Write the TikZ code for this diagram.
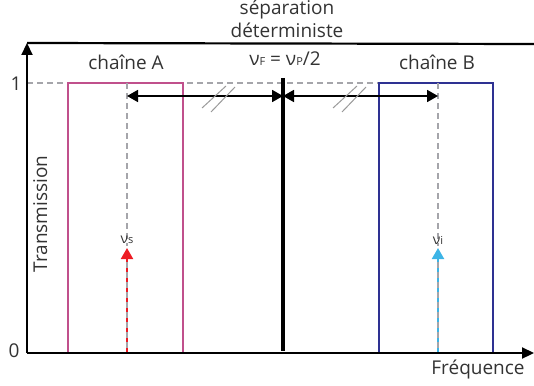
\documentclass[tikz,border=0pt]{standalone}
\usepackage{fontspec}
\setmainfont{Open Sans}
\newfontfamily\grk{Open Sans}
\usetikzlibrary{positioning, arrows.meta}
\definecolor{pinkA}{RGB}{192,80,140}
\definecolor{blueB}{RGB}{46,49,146}
\definecolor{signalred}{RGB}{237,28,36}
\definecolor{idlercyan}{RGB}{60,180,230}
\definecolor{guidegray}{RGB}{165,165,170}
\newcommand{\nusub}[1]{{\grk ν}{\fontsize{11}{11}\selectfont #1}}

\begin{document}
\begin{tikzpicture}[x=1pt, y=-1pt,
  axis/.style={line width=2.2pt, -{Triangle[length=12pt, width=11pt]}},
  guide/.style={draw=guidegray, line width=1.5pt, dash pattern=on 6pt off 4pt},
  chainbox/.style={line width=2pt},
  gap/.style={line width=1.8pt, {Triangle[length=11pt, width=12pt]}-{Triangle[length=11pt, width=12pt]}},
  hatch/.style={draw=gray!80, line width=1pt},
  wave/.style={line width=2pt, -{Triangle[length=11pt, width=12pt]}},
  lbl/.style={font=\fontsize{19}{22}\selectfont, text=black!80, inner sep=0pt, anchor=base},
  small/.style={font=\fontsize{14}{16}\selectfont, text=black!80, inner sep=0pt}
]
\useasboundingbox (0,0) rectangle (534,385);

\coordinate (origin) at (27,353);
\coordinate (ytop) at (27,43);
\coordinate (xend) at (534,353);
\coordinate (frameend) at (534,44);
\coordinate (oneA) at (27,83);
\coordinate (oneB) at (493,83);
\coordinate (sigtop) at (127,83);
\coordinate (sigfoot) at (127,353);
\coordinate (sighead) at (127,248);
\coordinate (idltop) at (438,83);
\coordinate (idlfoot) at (438,353);
\coordinate (idlhead) at (438,248);
\coordinate (septop) at (283,78);
\coordinate (sepfoot) at (283,351);
\coordinate (sigmark) at (127,96);
\coordinate (sepmark) at (283,96);
\coordinate (idlmark) at (438,96);

\draw[guide] (oneA) -- (oneB);
\draw[chainbox, pinkA] (68,353) |- (183,83) -- (183,353);
\draw[chainbox, blueB] (379,353) |- (493,83) -- (493,353);

\draw[wave, signalred] (sigfoot) -- (sighead);
\draw[wave, idlercyan] (idlfoot) -- (idlhead);
\draw[guide] (sigtop) -- (127,246) (127,262) -- (sigfoot);
\draw[guide] (idltop) -- (438,246) (438,262) -- (idlfoot);

\draw[line width=3.2pt] (septop) -- (sepfoot);
\draw[gap] (sigmark) -- (sepmark);
\draw[gap] (sepmark) -- (idlmark);
\draw[hatch] (202,108) -- (226,86) (211,112) -- (235,87);
\draw[hatch] (333,108) -- (357,86) (342,112) -- (366,87);

\draw[line width=2.2pt] (ytop) -- (frameend);
\draw[axis] (origin) -- (ytop);
\draw[axis] (origin) -- (xend);

\node[lbl] (sep1) at (287,15) {séparation};
\node[lbl] (sep2) at (287,38) {déterministe};
\node[lbl] (cond) at (285,66) {\nusub{F} = \nusub{P}/2};
\node[lbl] (labA) at (126,70) {chaîne A};
\node[lbl] (labB) at (437,70) {chaîne B};
\node[lbl] (one) at (16,90) {1};
\node[lbl] (zero) at (14,357) {0};
\node[lbl] (freq) at (478,374) {Fréquence};
\node[lbl, rotate=90] (trans) at (47,214) {Transmission};
\node[small] (nus) at (127,240) {\nusub{s}};
\node[small] (nui) at (438,240) {\nusub{i}};
\end{tikzpicture}
\end{document}
